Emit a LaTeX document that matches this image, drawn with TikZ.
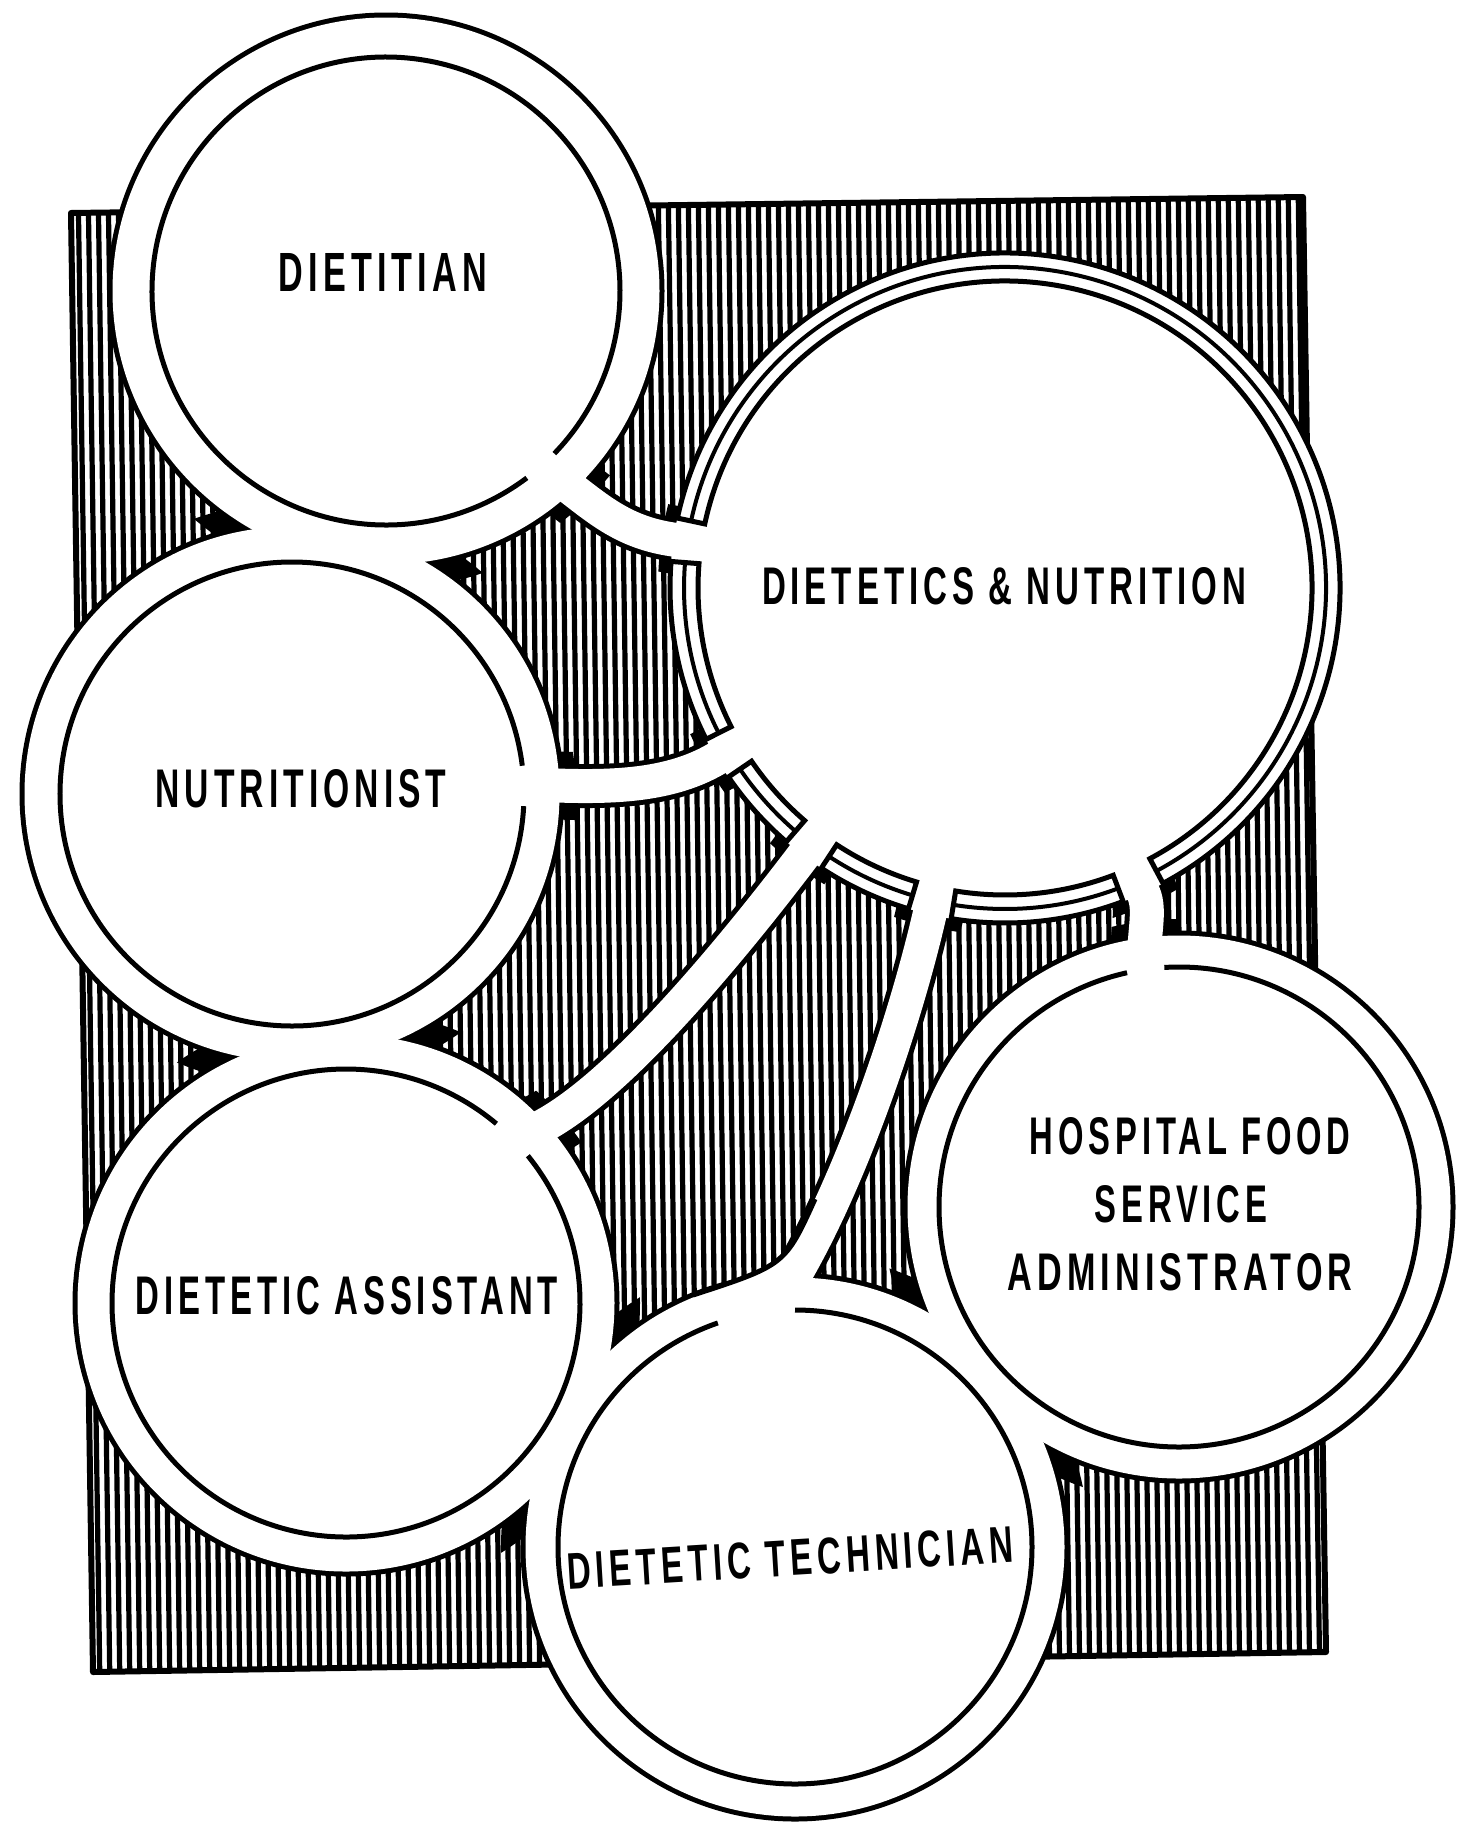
\documentclass[tikz,border=0pt]{standalone}
\usepackage{fontspec}
\usepackage{graphicx}
\newfontfamily\lf[LetterSpace=15]{Liberation Sans Bold}
\newcommand{\lab}[3]{\resizebox{#1pt}{#2pt}{\lf #3}}
\newcommand{\ringseg}[2]{%
  \draw[line width=5pt, line join=miter] (kc) ++(#1:307) arc[start angle=#1, end angle=#2, radius=307]
      -- ++(#2:28) arc[start angle=#2, end angle=#1, radius=335] -- cycle;
  \draw[line width=4pt] (kc) ++(#1:321) arc[start angle=#1, end angle=#2, radius=321];}
\newcommand{\innerc}[4]{\draw[line width=5pt] (#1) ++(#3:#2) arc[start angle=#3, end angle=#4, radius=#2];}
\newcommand{\cusp}[4]{\begin{scope}\clip (#1) circle (#2); \fill (#3) circle (#4); \end{scope}}
\newcommand{\bandcusp}[3]{\begin{scope}\clip (#1) circle (#2); \draw[line width=68pt] #3; \end{scope}}
\newcommand{\bands}[1]{%
  \draw[#1] (a0) .. controls (a1) and (a2) .. (a3) -- (a4);
  \draw[#1] (b0) .. controls (b1) and (b2) .. (b3) -- (b4);
  \draw[#1] (c0) .. controls (c1) and (c2) .. (c3) -- (c4);
  \draw[#1] (d0) .. controls (d1) and (d2) .. (d3) -- (d4);
  \draw[#1] (e0) .. controls (e1) and (e2) .. (e3) -- (e4);}
\begin{document}
\begin{tikzpicture}[x=1pt,y=-1pt,
  lbl/.style={inner sep=0pt}]
\useasboundingbox (0,0) rectangle (1459,1826);
\fill[white] (0,0) rectangle (1459,1826);
% centres
\coordinate (k1) at (386,291);
\coordinate (k2) at (292,794);
\coordinate (k3) at (346,1303);
\coordinate (k4) at (795,1547);
\coordinate (k5) at (1179,1207);
\coordinate (kc) at (1005,588);
% band points
\coordinate (a0) at (541,466); \coordinate (a1) at (590,500); \coordinate (a2) at (614,531); \coordinate (a3) at (673.5,539.6); \coordinate (a4) at (703,544);
\coordinate (b0) at (524,784); \coordinate (b1) at (599,788); \coordinate (b2) at (665,789); \coordinate (b3) at (716.7,758.5); \coordinate (b4) at (742.5,743.2);
\coordinate (c0) at (515,1137); \coordinate (c1) at (598,1118); \coordinate (c2) at (743,935); \coordinate (c3) at (803.4,855.5); \coordinate (c4) at (821.5,831.5);
\coordinate (d0) at (774,1308); \coordinate (d1) at (837,1218); \coordinate (d2) at (900.4,1041); \coordinate (d3) at (929.6,914.4); \coordinate (d4) at (936.4,885.2);
\coordinate (e0) at (1144.6,968.3); \coordinate (e1) at (1142,938.4); \coordinate (e2) at (1151.7,911.3); \coordinate (e3) at (1143.4,893.1); \coordinate (e4) at (1131,865.8);
% flare of the technician band
\coordinate (f0) at (815,1199); \coordinate (f1) at (785,1265); \coordinate (f2) at (693,1295);
% hatched background
\begin{scope}
  \clip (71,213) -- (1303,197) -- (1326,1652) -- (93,1672) -- cycle;
  \foreach \i in {0,...,132} { \draw[line width=5.2pt] ({58+10*\i},180) -- ({80+10*\i},1690); }
\end{scope}
\draw[line width=6pt, line join=round] (71,213) -- (1303,197) -- (1326,1652) -- (93,1672) -- cycle;
% black layer
\cusp{k1}{298}{k2}{292}
\cusp{k2}{292}{k3}{294}
\cusp{k3}{294}{k4}{294}
\cusp{k4}{294}{k5}{296}
\bandcusp{k1}{290}{(a0) .. controls (a1) and (a2) .. (a3) -- (a4)}
\bandcusp{k2}{284}{(b0) .. controls (b1) and (b2) .. (b3) -- (b4)}
\bandcusp{k3}{285}{(c0) .. controls (c1) and (c2) .. (c3) -- (c4)}
\bandcusp{k5}{288}{(e0) .. controls (e1) and (e2) .. (e3) -- (e4)}
\bandcusp{kc}{347}{(a0) .. controls (a1) and (a2) .. (a3) -- (a4)}
\bandcusp{kc}{347}{(b0) .. controls (b1) and (b2) .. (b3) -- (b4)}
\bandcusp{kc}{347}{(c0) .. controls (c1) and (c2) .. (c3) -- (c4)}
\bandcusp{kc}{347}{(d0) .. controls (d1) and (d2) .. (d3) -- (d4)}
\bandcusp{kc}{347}{(e0) .. controls (e1) and (e2) .. (e3) -- (e4)}
\bands{line width=44pt}
\fill (k1) circle (278.5);
\fill (k2) circle (272.5);
\fill (k3) circle (273.5);
\fill (k4) circle (274.5);
\fill (k5) circle (276.5);
% white layer
\bands{white, line width=34pt}
\fill[white] (k1) circle (273.5);
\fill[white] (k2) circle (267.5);
\fill[white] (k3) circle (268.5);
\fill[white] (k4) circle (269.5);
\fill[white] (k5) circle (271.5);
\fill[white] (kc) circle (335);
% flare
\fill[white] (f0) .. controls (f1) .. (f2) -- (770,1330) -- (845,1215) -- cycle;
\draw[line width=5pt] (f0) .. controls (f1) .. (f2);
% inner circles
\innerc{k1}{234}{53}{404}
\innerc{k2}{232}{3}{353}
\innerc{k3}{234}{-39}{310}
\innerc{k4}{237}{-90}{251}
\innerc{k5}{240}{-93.5}{257.5}
% central ring segments
\ringseg{192.05}{421.85}
\ringseg{153.15}{184.55}
\ringseg{130.75}{145.65}
\ringseg{106.75}{123.25}
\ringseg{69.35}{99.25}
% labels
\node[lbl] (t1) at (383,272) {\lab{208}{38}{DIETITIAN}};
\node[lbl] (tc) at (1004,586) {\lab{484}{37}{DIETETICS \& NUTRITION}};
\node[lbl] (t2) at (301,789) {\lab{291}{38}{NUTRITIONIST}};
\node[lbl] (t3) at (347,1296) {\lab{422}{38}{DIETETIC ASSISTANT}};
\node[lbl] (t5a) at (1190,1136) {\lab{321}{37}{HOSPITAL FOOD}};
\node[lbl] (t5b) at (1181,1204) {\lab{173}{37}{SERVICE}};
\node[lbl] (t5c) at (1180,1272) {\lab{345}{37}{ADMINISTRATOR}};
\node[lbl, rotate=3.5] (t4) at (790,1558) {\lab{447}{36}{DIETETIC TECHNICIAN}};
\end{tikzpicture}
\end{document}
